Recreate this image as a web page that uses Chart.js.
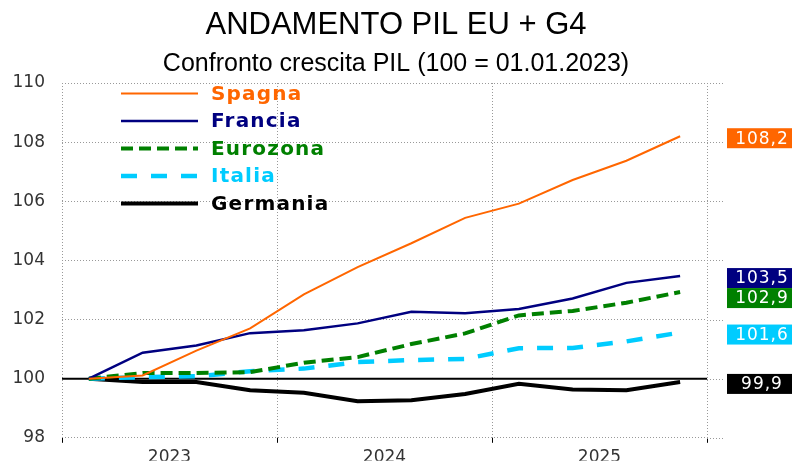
<!DOCTYPE html>
<html>
<head>
<meta charset="utf-8">
<script src="https://cdn.jsdelivr.net/npm/chart.js@4"></script>
<style>
  html, body { margin: 0; padding: 0; background: #fff; }
  #box { width: 792px; height: 465px; }
</style>
</head>
<body>
<div id="box"><canvas id="grafico"></canvas></div>
<script>
// dati trimestrali, 100 = 01.01.2023
const trimestri = ['T1 2023', 'T2 2023', 'T3 2023', 'T4 2023',
                   'T1 2024', 'T2 2024', 'T3 2024', 'T4 2024',
                   'T1 2025', 'T2 2025', 'T3 2025', 'T4 2025'];
const anni = ['2023', '2024', '2025'];

const spagna   = [100, 100.11, 100.95, 101.70, 102.85, 103.77, 104.58, 105.44, 105.92, 106.72, 107.37, 108.20];
const francia  = [100, 100.88, 101.12, 101.54, 101.64, 101.87, 102.26, 102.21, 102.36, 102.71, 103.24, 103.47];
const eurozona = [100, 100.19, 100.19, 100.22, 100.54, 100.73, 101.17, 101.53, 102.14, 102.29, 102.57, 102.93];
const italia   = [100, 100.05, 100.08, 100.25, 100.34, 100.56, 100.63, 100.67, 101.03, 101.04, 101.26, 101.56];
const germania = [100, 99.89, 99.89, 99.61, 99.52, 99.24, 99.27, 99.48, 99.83, 99.63, 99.61, 99.89];

const titolo = 'ANDAMENTO PIL EU + G4';
const sottotitolo = 'Confronto crescita PIL (100 = 01.01.2023)';

function serie(nome, dati, colore, spessore, tratteggio) {
    return {
        label: nome,
        data: dati,
        borderColor: colore,
        backgroundColor: colore,
        borderWidth: spessore,
        borderDash: tratteggio,
        pointRadius: 0,
        tension: 0,
        fill: false
    };
}

const datasets = [
    serie('Spagna', spagna, '#ff6600', 2, []),
    serie('Francia', francia, '#000080', 2.5, []),
    serie('Eurozona', eurozona, '#008000', 4, [12, 6]),
    serie('Italia', italia, '#00ccff', 4.5, [16, 14]),
    serie('Germania', germania, '#000000', 4, [])
];

const decorazioni = {
    id: 'decorazioni',
    beforeDatasetsDraw(chart) {
        const { ctx, chartArea: a, scales: { y } } = chart;
        ctx.save();
        // griglia orizzontale prolungata a destra
        ctx.strokeStyle = '#999';
        ctx.lineWidth = 1;
        ctx.setLineDash([1, 2]);
        y.ticks.forEach(t => {
            const py = Math.round(y.getPixelForValue(t.value)) + 0.5;
            ctx.beginPath();
            ctx.moveTo(a.right, py);
            ctx.lineTo(a.right + 18, py);
            ctx.stroke();
        });
        // linea base 100
        ctx.setLineDash([]);
        ctx.strokeStyle = '#000';
        ctx.lineWidth = 2;
        const p = y.getPixelForValue(100);
        ctx.beginPath();
        ctx.moveTo(a.left, p);
        ctx.lineTo(a.right, p);
        ctx.stroke();
        ctx.restore();
    },
    afterDraw(chart) {
        const { ctx, chartArea: a, scales: { y } } = chart;
        ctx.save();

        // titoli
        ctx.fillStyle = '#000';
        ctx.textAlign = 'center';
        ctx.textBaseline = 'middle';
        ctx.font = '31px "Liberation Sans"';
        ctx.fillText(titolo, chart.width / 2, 25);
        ctx.font = '25px "Liberation Sans"';
        ctx.fillText(sottotitolo, chart.width / 2, 64);

        // legenda
        ctx.textAlign = 'left';
        ctx.font = 'bold 20px "DejaVu Sans"';
        ctx.letterSpacing = '1.2px';
        chart.data.datasets.forEach((ds, i) => {
            const ly = a.top + 10.5 + i * 27.5;
            ctx.strokeStyle = ds.borderColor;
            ctx.lineWidth = ds.borderWidth;
            ctx.setLineDash(ds.borderDash);
            ctx.beginPath();
            ctx.moveTo(121, ly);
            ctx.lineTo(198, ly);
            ctx.stroke();
            ctx.fillStyle = ds.borderColor;
            ctx.fillText(ds.label, 211, ly + 1);
        });
        ctx.setLineDash([]);

        // etichette ultimo valore
        const etichette = chart.data.datasets.map(ds => {
            const v = ds.data[ds.data.length - 1];
            return { testo: v.toFixed(1).replace('.', ','), colore: ds.borderColor, py: y.getPixelForValue(v) + 2 };
        }).sort((p, q) => p.py - q.py);
        for (let i = 1; i < etichette.length; i++) {
            if (etichette[i].py - etichette[i - 1].py < 20) etichette[i].py = etichette[i - 1].py + 20;
        }
        ctx.font = '17px "DejaVu Sans"';
        ctx.letterSpacing = '1px';
        ctx.textAlign = 'center';
        etichette.forEach(e => {
            ctx.fillStyle = e.colore;
            ctx.fillRect(a.right + 20, e.py - 10, 70, 20);
            ctx.fillStyle = '#fff';
            ctx.fillText(e.testo, a.right + 55, e.py + 1);
        });
        ctx.restore();
    }
};

new Chart(document.getElementById('grafico'), {
    type: 'line',
    data: { labels: trimestri, datasets: datasets },
    options: {
        responsive: true,
        maintainAspectRatio: false,
        animation: false,
        layout: { padding: { top: 83, right: 85, bottom: 0, left: 0 } },
        plugins: {
            legend: { display: false },
            tooltip: { enabled: false }
        },
        scales: {
            x: {
                type: 'category',
                offset: true,
                display: false
            },
            x2: {
                type: 'category',
                labels: anni,
                position: 'bottom',
                offset: true,
                grid: { offset: true, color: '#999', tickColor: '#000', tickLength: 5, tickWidth: 1 },
                border: { display: false, dash: [1, 2] },
                ticks: { padding: 5, color: '#333', font: { family: 'DejaVu Sans', size: 17 } },
                afterFit(s) { s.height = 23; }
            },
            y: {
                min: 98,
                max: 110,
                ticks: { stepSize: 2, padding: 17, color: '#333', font: { family: 'DejaVu Sans', size: 17 } },
                grid: { color: '#999', drawTicks: false, tickLength: 0 },
                border: { display: false, dash: [1, 2] },
                afterFit(s) { s.width = 62; }
            }
        }
    },
    plugins: [decorazioni]
});
</script>
</body>
</html>
